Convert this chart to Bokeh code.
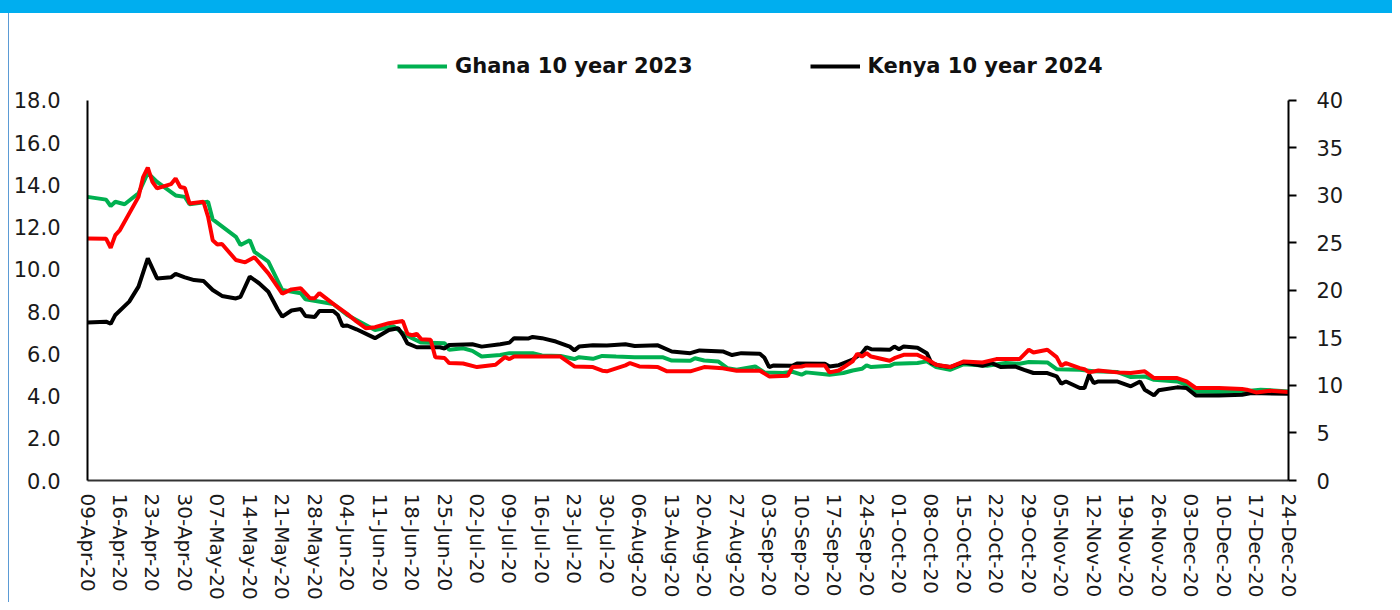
import pandas as pd
from bokeh.plotting import figure
from bokeh.models import (Range1d, LinearAxis, FixedTicker, SingleIntervalTicker,
                          NumeralTickFormatter, DatetimeTickFormatter, Legend, LegendItem)
from bokeh.embed import file_html
from bokeh.resources import INLINE

START = "2020-04-09"
END = "2020-12-24"

# Ghana 10 year 2023 (left axis)
ghana_day = [0, 4, 5, 6, 8, 11, 13, 15, 17, 19, 21, 22, 26, 27, 32, 33, 35, 36, 39, 42,
             46, 47, 53, 56, 62, 66, 68, 70, 72, 77, 78, 81, 83, 85, 89, 91, 96, 98, 102, 105,
             106, 109, 111, 114, 118, 124, 126, 130, 131, 133, 136, 138, 140, 144, 146, 150, 152, 154, 155, 160,
             163, 165, 167, 168, 169, 173, 174, 179, 181, 183, 186, 189, 194, 198, 201, 203, 207, 209, 214, 217,
             222, 225, 228, 230, 235, 237, 239, 244, 249, 253, 259]
ghana_val = [13.43, 13.30, 13.00, 13.20, 13.08, 13.60, 14.56, 14.14, 13.82, 13.50, 13.43, 13.08, 13.20, 12.36, 11.54, 11.15, 11.38, 10.83, 10.36, 9.02,
             8.87, 8.58, 8.36, 7.84, 7.13, 7.30, 6.98, 6.74, 6.53, 6.50, 6.19, 6.26, 6.14, 5.87, 5.94, 6.03, 6.03, 5.92, 5.90, 5.75,
             5.84, 5.76, 5.90, 5.87, 5.84, 5.84, 5.68, 5.67, 5.79, 5.68, 5.64, 5.32, 5.24, 5.40, 5.12, 5.09, 5.15, 5.01, 5.12, 5.01,
             5.09, 5.21, 5.29, 5.45, 5.37, 5.43, 5.53, 5.56, 5.64, 5.37, 5.24, 5.51, 5.43, 5.56, 5.53, 5.61, 5.59, 5.27, 5.24, 5.17,
             5.14, 4.90, 4.93, 4.77, 4.69, 4.53, 4.22, 4.19, 4.22, 4.30, 4.22]

# Kenya 10 year 2024 (left axis)
kenya_day = [0, 4, 5, 6, 9, 11, 13, 15, 18, 19, 21, 23, 25, 27, 29, 32, 33, 35, 37, 39,
             41, 42, 44, 46, 47, 49, 50, 53, 54, 55, 56, 58, 62, 65, 67, 68, 69, 71, 76, 77,
             78, 83, 85, 89, 91, 92, 95, 96, 98, 101, 104, 105, 106, 109, 112, 116, 118, 123, 126, 130,
             132, 137, 139, 141, 145, 146, 147, 148, 152, 153, 159, 160, 162, 165, 167, 168, 169, 173, 174, 175,
             176, 179, 181, 182, 184, 186, 189, 193, 195, 197, 200, 202, 204, 207, 209, 210, 211, 214, 215, 216,
             217, 218, 222, 225, 227, 228, 230, 231, 235, 237, 239, 244, 249, 251, 259]
kenya_val = [7.48, 7.52, 7.42, 7.84, 8.47, 9.18, 10.52, 9.57, 9.62, 9.78, 9.62, 9.49, 9.45, 9.02, 8.74, 8.62, 8.70, 9.65, 9.34, 8.94,
             8.11, 7.76, 8.05, 8.12, 7.79, 7.74, 8.03, 8.03, 7.84, 7.32, 7.34, 7.16, 6.74, 7.13, 7.21, 6.90, 6.49, 6.31, 6.31, 6.25,
             6.42, 6.45, 6.34, 6.45, 6.53, 6.74, 6.72, 6.80, 6.74, 6.58, 6.34, 6.16, 6.34, 6.40, 6.39, 6.45, 6.37, 6.40, 6.11, 6.03,
             6.16, 6.11, 5.94, 6.03, 6.00, 5.81, 5.37, 5.45, 5.43, 5.54, 5.53, 5.40, 5.46, 5.72, 6.03, 6.31, 6.22, 6.19, 6.34, 6.22,
             6.34, 6.29, 6.03, 5.56, 5.43, 5.37, 5.59, 5.43, 5.56, 5.37, 5.40, 5.24, 5.09, 5.09, 4.93, 4.58, 4.69, 4.38, 4.38, 5.01,
             4.61, 4.69, 4.69, 4.46, 4.69, 4.30, 4.03, 4.27, 4.41, 4.38, 4.03, 4.03, 4.06, 4.14, 4.11]

# Third series (red, no legend entry visible)
red_day = [0, 4, 5, 6, 7, 11, 12, 13, 14, 15, 18, 19, 20, 21, 22, 25, 26, 27, 28, 29,
           32, 34, 36, 39, 42, 44, 46, 48, 49, 50, 53, 56, 58, 60, 62, 65, 68, 69, 70, 71,
           72, 74, 75, 77, 78, 81, 84, 88, 90, 91, 92, 102, 105, 109, 111, 112, 114, 116, 117, 119,
           123, 125, 130, 133, 137, 140, 145, 147, 151, 152, 154, 155, 159, 160, 162, 165, 166, 167, 168, 169,
           173, 174, 176, 179, 181, 183, 186, 189, 193, 196, 201, 203, 204, 207, 209, 210, 211, 214, 215, 216,
           218, 222, 225, 228, 230, 235, 237, 239, 244, 249, 250, 252, 255, 259]
red_val = [11.46, 11.45, 11.02, 11.62, 11.86, 13.43, 14.37, 14.82, 14.14, 13.83, 14.03, 14.30, 13.90, 13.85, 13.12, 13.20, 12.49, 11.38, 11.18, 11.20,
           10.44, 10.33, 10.57, 9.81, 8.85, 9.05, 9.10, 8.63, 8.63, 8.87, 8.36, 7.89, 7.53, 7.21, 7.26, 7.45, 7.55, 6.94, 6.88, 6.94,
           6.69, 6.66, 5.84, 5.80, 5.56, 5.54, 5.37, 5.48, 5.84, 5.75, 5.87, 5.87, 5.40, 5.37, 5.20, 5.17, 5.31, 5.45, 5.56, 5.40,
           5.37, 5.17, 5.17, 5.37, 5.31, 5.20, 5.20, 4.93, 4.96, 5.37, 5.40, 5.45, 5.45, 5.12, 5.21, 5.64, 6.00, 5.87, 6.03, 5.87,
           5.67, 5.79, 5.95, 5.95, 5.75, 5.48, 5.37, 5.64, 5.59, 5.75, 5.75, 6.19, 6.06, 6.19, 5.84, 5.43, 5.56, 5.32, 5.27, 5.12,
           5.21, 5.12, 5.09, 5.17, 4.85, 4.85, 4.69, 4.38, 4.38, 4.33, 4.30, 4.17, 4.25, 4.19]

LEFT_MAX = 18
RIGHT_MAX = 40

start = pd.Timestamp(START)
def to_dates(days):
    return start + pd.to_timedelta(days, unit="D")

FONT = "DejaVu Sans"

# layout (pixels inside the figure)
W, H = 1392, 602
FRAME_LEFT, FRAME_RIGHT = 87, 1288
FRAME_TOP = 43      # frame extends above the axes to hold the legend
AXIS_TOP = 100
FRAME_BOTTOM = 481
stretch = (FRAME_BOTTOM - FRAME_TOP) / (FRAME_BOTTOM - AXIS_TOP)

p = figure(width=W, height=H, x_axis_type="datetime",
           output_backend="svg", toolbar_location=None,
           x_range=Range1d(pd.Timestamp(START), pd.Timestamp(END)),
           y_range=Range1d(0, LEFT_MAX * stretch),
           min_border_left=FRAME_LEFT, min_border_right=W - FRAME_RIGHT,
           min_border_top=FRAME_TOP, min_border_bottom=H - FRAME_BOTTOM,
           background_fill_color="white", border_fill_color=None)
p.styles = {"background": ("linear-gradient(#00AEEF, #00AEEF) 0 0 / 100% 13px no-repeat, "
                           "linear-gradient(#5B9BD5, #5B9BD5) 8px 13px / 1px 100% no-repeat, white")}
p.outline_line_color = None
p.grid.visible = False
p.extra_y_ranges = {"right": Range1d(0, RIGHT_MAX * stretch)}

r_g = p.line(to_dates(ghana_day), ghana_val, line_color="#00B050", line_width=4)
r_k = p.line(to_dates(kenya_day), kenya_val, line_color="#000000", line_width=4)
r_r = p.line(to_dates(red_day), red_val, line_color="#FF0000", line_width=4)

# bottom axis
xa = p.xaxis[0]
ticks = pd.date_range(START, END, freq="7D")
xa.ticker = FixedTicker(ticks=[t.value / 1e6 for t in ticks])
fmt = "%d-%b-%y"
xa.formatter = DatetimeTickFormatter(days=fmt, months=fmt, years=fmt, hours=fmt,
                                     hourmin=fmt, minutes=fmt, context=None)
xa.major_label_orientation = "vertical"
xa.major_tick_out = 0
xa.major_tick_in = 0
xa.minor_tick_out = 0
xa.minor_tick_in = 0
xa.major_tick_line_color = None
xa.minor_tick_line_color = None
xa.axis_line_color = "#333333"
xa.axis_line_width = 2
xa.major_label_text_font = FONT
xa.major_label_text_font_size = "20px"
xa.major_label_text_color = "#1a1a1a"
xa.major_label_standoff = 13

# left axis
ya = p.yaxis[0]
ya.ticker = SingleIntervalTicker(interval=2)
ya.formatter = NumeralTickFormatter(format="0.0")
ya.bounds = (0, LEFT_MAX)
ya.major_tick_out = 0
ya.major_tick_in = 0
ya.minor_tick_out = 0
ya.minor_tick_in = 0
ya.major_tick_line_color = None
ya.minor_tick_line_color = None
ya.axis_line_color = "#000000"
ya.axis_line_width = 2
ya.major_label_text_font = FONT
ya.major_label_text_font_size = "21px"
ya.major_label_text_color = "#1a1a1a"
ya.major_label_standoff = 27

# right axis
ra = LinearAxis(y_range_name="right", ticker=SingleIntervalTicker(interval=5),
                bounds=(0, RIGHT_MAX))
ra.major_tick_in = 0
ra.major_tick_out = 8
ra.minor_tick_in = 0
ra.minor_tick_out = 0
ra.major_tick_line_width = 2
ra.minor_tick_line_color = None
ra.axis_line_color = "#000000"
ra.axis_line_width = 2
ra.major_label_text_font = FONT
ra.major_label_text_font_size = "21px"
ra.major_label_text_color = "#1a1a1a"
ra.major_label_standoff = 20
p.add_layout(ra, "right")

legend = Legend(items=[LegendItem(label="Ghana 10 year 2023", renderers=[r_g]),
                       LegendItem(label="Kenya 10 year 2024", renderers=[r_k])],
                orientation="horizontal", location=(310, 402),
                glyph_width=50, glyph_height=22, label_standoff=8, spacing=117,
                padding=0, margin=0, border_line_color=None, background_fill_alpha=0,
                label_text_font=FONT, label_text_font_style="bold",
                label_text_font_size="21px", label_text_color="#111111")
p.add_layout(legend, "center")

open("out.html", "w").write(file_html(p, INLINE))
